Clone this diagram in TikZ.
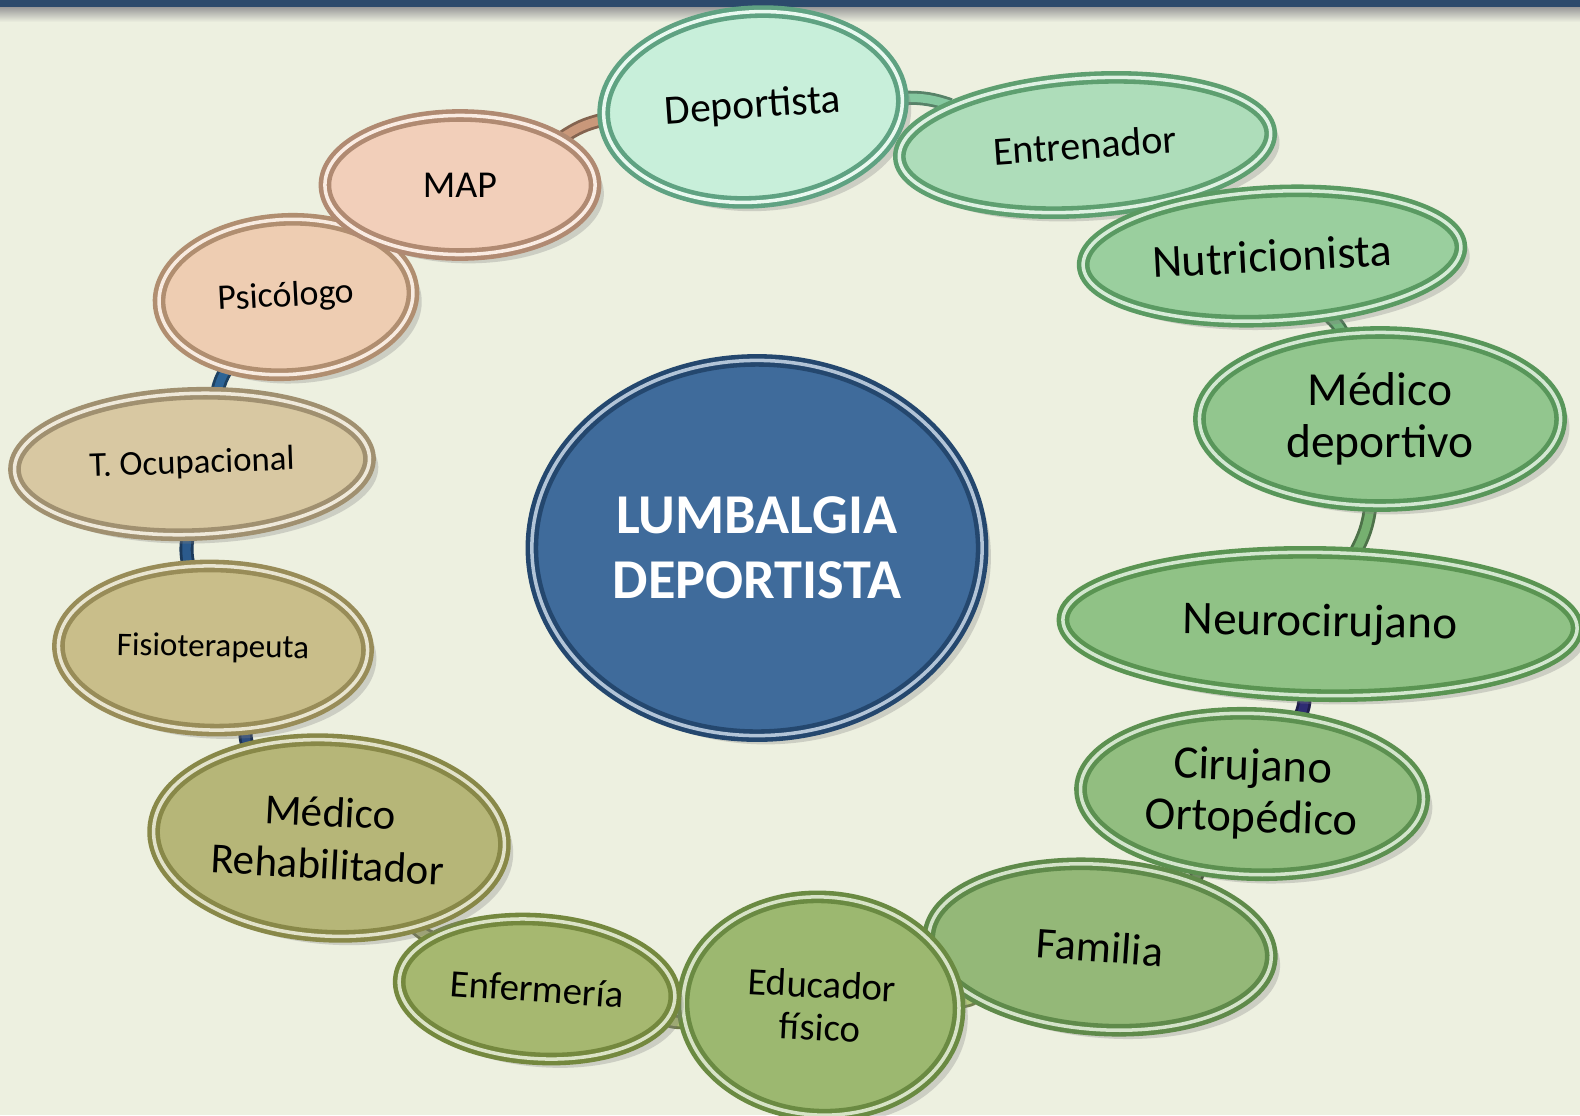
\documentclass[tikz,border=0pt]{standalone}
\usepackage{fontspec}
\setmainfont{Carlito}
\usetikzlibrary{shapes.geometric,shadows}
\pgfdeclarelayer{back}
\pgfsetlayers{back,main}

\definecolor{paper}{HTML}{EDF0E0}
\definecolor{bar}{HTML}{2C4A6C}
% bubble fills / rims
\definecolor{fDep}{HTML}{C8EFDA}\definecolor{rDep}{HTML}{5FA282}
\definecolor{fEnt}{HTML}{AEDDBA}\definecolor{rEnt}{HTML}{5E9F70}
\definecolor{fNut}{HTML}{9ACF9E}\definecolor{rNut}{HTML}{5A9A62}
\definecolor{fMdd}{HTML}{92C68E}\definecolor{rMdd}{HTML}{58965A}
\definecolor{fNeu}{HTML}{90C286}\definecolor{rNeu}{HTML}{5A9452}
\definecolor{fCir}{HTML}{92BE80}\definecolor{rCir}{HTML}{5C9050}
\definecolor{fFam}{HTML}{94B878}\definecolor{rFam}{HTML}{5F8A4A}
\definecolor{fEdu}{HTML}{9CB870}\definecolor{rEdu}{HTML}{6A8A42}
\definecolor{fEnf}{HTML}{A6B870}\definecolor{rEnf}{HTML}{74883E}
\definecolor{fMdr}{HTML}{B6B678}\definecolor{rMdr}{HTML}{888848}
\definecolor{fFis}{HTML}{C9BE8A}\definecolor{rFis}{HTML}{988C58}
\definecolor{fToc}{HTML}{D8C8A2}\definecolor{rToc}{HTML}{A09070}
\definecolor{fPsi}{HTML}{EECDB2}\definecolor{rPsi}{HTML}{B08E70}
\definecolor{fMap}{HTML}{F2CFBA}\definecolor{rMap}{HTML}{B08A72}
\definecolor{fLum}{HTML}{3F6B9B}\definecolor{rLum}{HTML}{24476E}
% ring pieces
\definecolor{tMapDep}{HTML}{C9987A}
\definecolor{tDepEnt}{HTML}{86C8A0}
\definecolor{tEntNut}{HTML}{80BE8E}
\definecolor{tNutMdd}{HTML}{72B37C}
\definecolor{tMddNeu}{HTML}{76B070}
\definecolor{tNeuCir}{HTML}{2E2C72}
\definecolor{tCirFam}{HTML}{6E8A5E}
\definecolor{tFamEdu}{HTML}{B0C67A}
\definecolor{tEduEnf}{HTML}{AABA70}
\definecolor{tEnfMdr}{HTML}{AAB274}
\definecolor{tMdrFis}{HTML}{2C4C7E}
\definecolor{tFisToc}{HTML}{2B5A8C}
\definecolor{tTocPsi}{HTML}{2C6496}
\definecolor{tPsiMap}{HTML}{C89C80}

\begin{document}
\begin{tikzpicture}[x=0.01cm,y=-0.01cm,
    bubble/.style 2 args={ellipse, inner sep=0pt, align=center,
        fill=#1, draw=#2, line width=1.3pt, double=#1!40!white, double distance=1pt,
        drop shadow={shadow xshift=2.5pt, shadow yshift=-2.5pt, opacity=0.3}},
    fs/.style 2 args={font=\fontsize{#1}{#2}\selectfont},
    tube/.style={line width=4pt, draw=#1!65!black, postaction={draw=#1, line width=2.4pt}}]
\useasboundingbox (0,0) rectangle (1580,1115);
%------------------------------------------------------------------------------------------------
% centre
\node[bubble={fLum}{rLum}, minimum width=4.5cm, minimum height=3.75cm, text=white,
    font=\bfseries\fontsize{16}{18.5}\selectfont] (lum) at (757,548) {LUMBALGIA\\DEPORTISTA};
%------------------------------------------------------------------------------------------------
% ring of bubbles, clockwise from the top
\node[bubble={fDep}{rDep}, minimum width=2.99cm, minimum height=1.90cm, rotate=4, fs={11.8}{13}] (dep) at (753,107) {Deportista};
\node[bubble={fEnt}{rEnt}, minimum width=3.72cm, minimum height=1.33cm, rotate=4, fs={11.4}{13}] (ent) at (1085,145) {Entrenador};
\node[bubble={fNut}{rNut}, minimum width=3.78cm, minimum height=1.29cm, rotate=3, fs={13.1}{15}] (nut) at (1272,256) {Nutricionista};
\node[bubble={fMdd}{rMdd}, minimum width=3.61cm, minimum height=1.73cm, fs={13.5}{14.9}] (mdd) at (1380,419) {Médico\\deportivo};
\node[bubble={fNeu}{rNeu}, minimum width=5.14cm, minimum height=1.43cm, rotate=-1, fs={13.4}{15}] (neu) at (1320,624) {Neurocirujano};
\node[bubble={fCir}{rCir}, minimum width=3.43cm, minimum height=1.61cm, rotate=-2, fs={13.2}{14.6}] (cir) at (1252,794) {Cirujano\\Ortopédico};
\node[bubble={fFam}{rFam}, minimum width=3.43cm, minimum height=1.65cm, rotate=-4, fs={12.5}{14}] (fam) at (1100,947) {Familia};
\node[bubble={fEdu}{rEdu}, minimum width=2.76cm, minimum height=2.18cm, rotate=-3, fs={11}{12.2}] (edu) at (821,1006) {Educador\\físico};
\node[bubble={fEnf}{rEnf}, minimum width=2.76cm, minimum height=1.39cm, rotate=-4, fs={11}{12.5}] (enf) at (537,989) {Enfermería};
\node[bubble={fMdr}{rMdr}, minimum width=3.51cm, minimum height=1.96cm, rotate=-3, fs={12.2}{14.9}] (mdr) at (329,838) {Médico\\Rehabilitador};
\node[bubble={fFis}{rFis}, minimum width=3.09cm, minimum height=1.64cm, rotate=-1, fs={9.4}{11}] (fis) at (213,648) {Fisioterapeuta};
\node[bubble={fToc}{rToc}, minimum width=3.55cm, minimum height=1.41cm, rotate=2, fs={9.9}{11.5}] (toc) at (192,464) {T. Ocupacional};
\node[bubble={fPsi}{rPsi}, minimum width=2.54cm, minimum height=1.55cm, rotate=3, fs={10.2}{12}] (psi) at (286,297) {Psicólogo};
\node[bubble={fMap}{rMap}, minimum width=2.70cm, minimum height=1.39cm, fs={10.8}{12.5}] (map) at (460,185) {MAP};
%------------------------------------------------------------------------------------------------
\begin{pgfonlayer}{back}
    \fill[paper] (0,0) rectangle (1580,1115);
    \shade[top color=black!40, bottom color=paper] (0,7) rectangle (1580,22);
    \fill[bar] (0,0) rectangle (1580,7);
    % ring behind the bubbles
    \foreach \a/\b/\col in {map/dep/tMapDep, dep/ent/tDepEnt, ent/nut/tEntNut, nut/mdd/tNutMdd,
        mdd/neu/tMddNeu, neu/cir/tNeuCir, cir/fam/tCirFam, fam/edu/tFamEdu, edu/enf/tEduEnf,
        enf/mdr/tEnfMdr, mdr/fis/tMdrFis, fis/toc/tFisToc, toc/psi/tTocPsi, psi/map/tPsiMap} {
        \draw[tube=\col] (\a) to[bend left=10] (\b);
    }
\end{pgfonlayer}
\end{tikzpicture}
\end{document}
